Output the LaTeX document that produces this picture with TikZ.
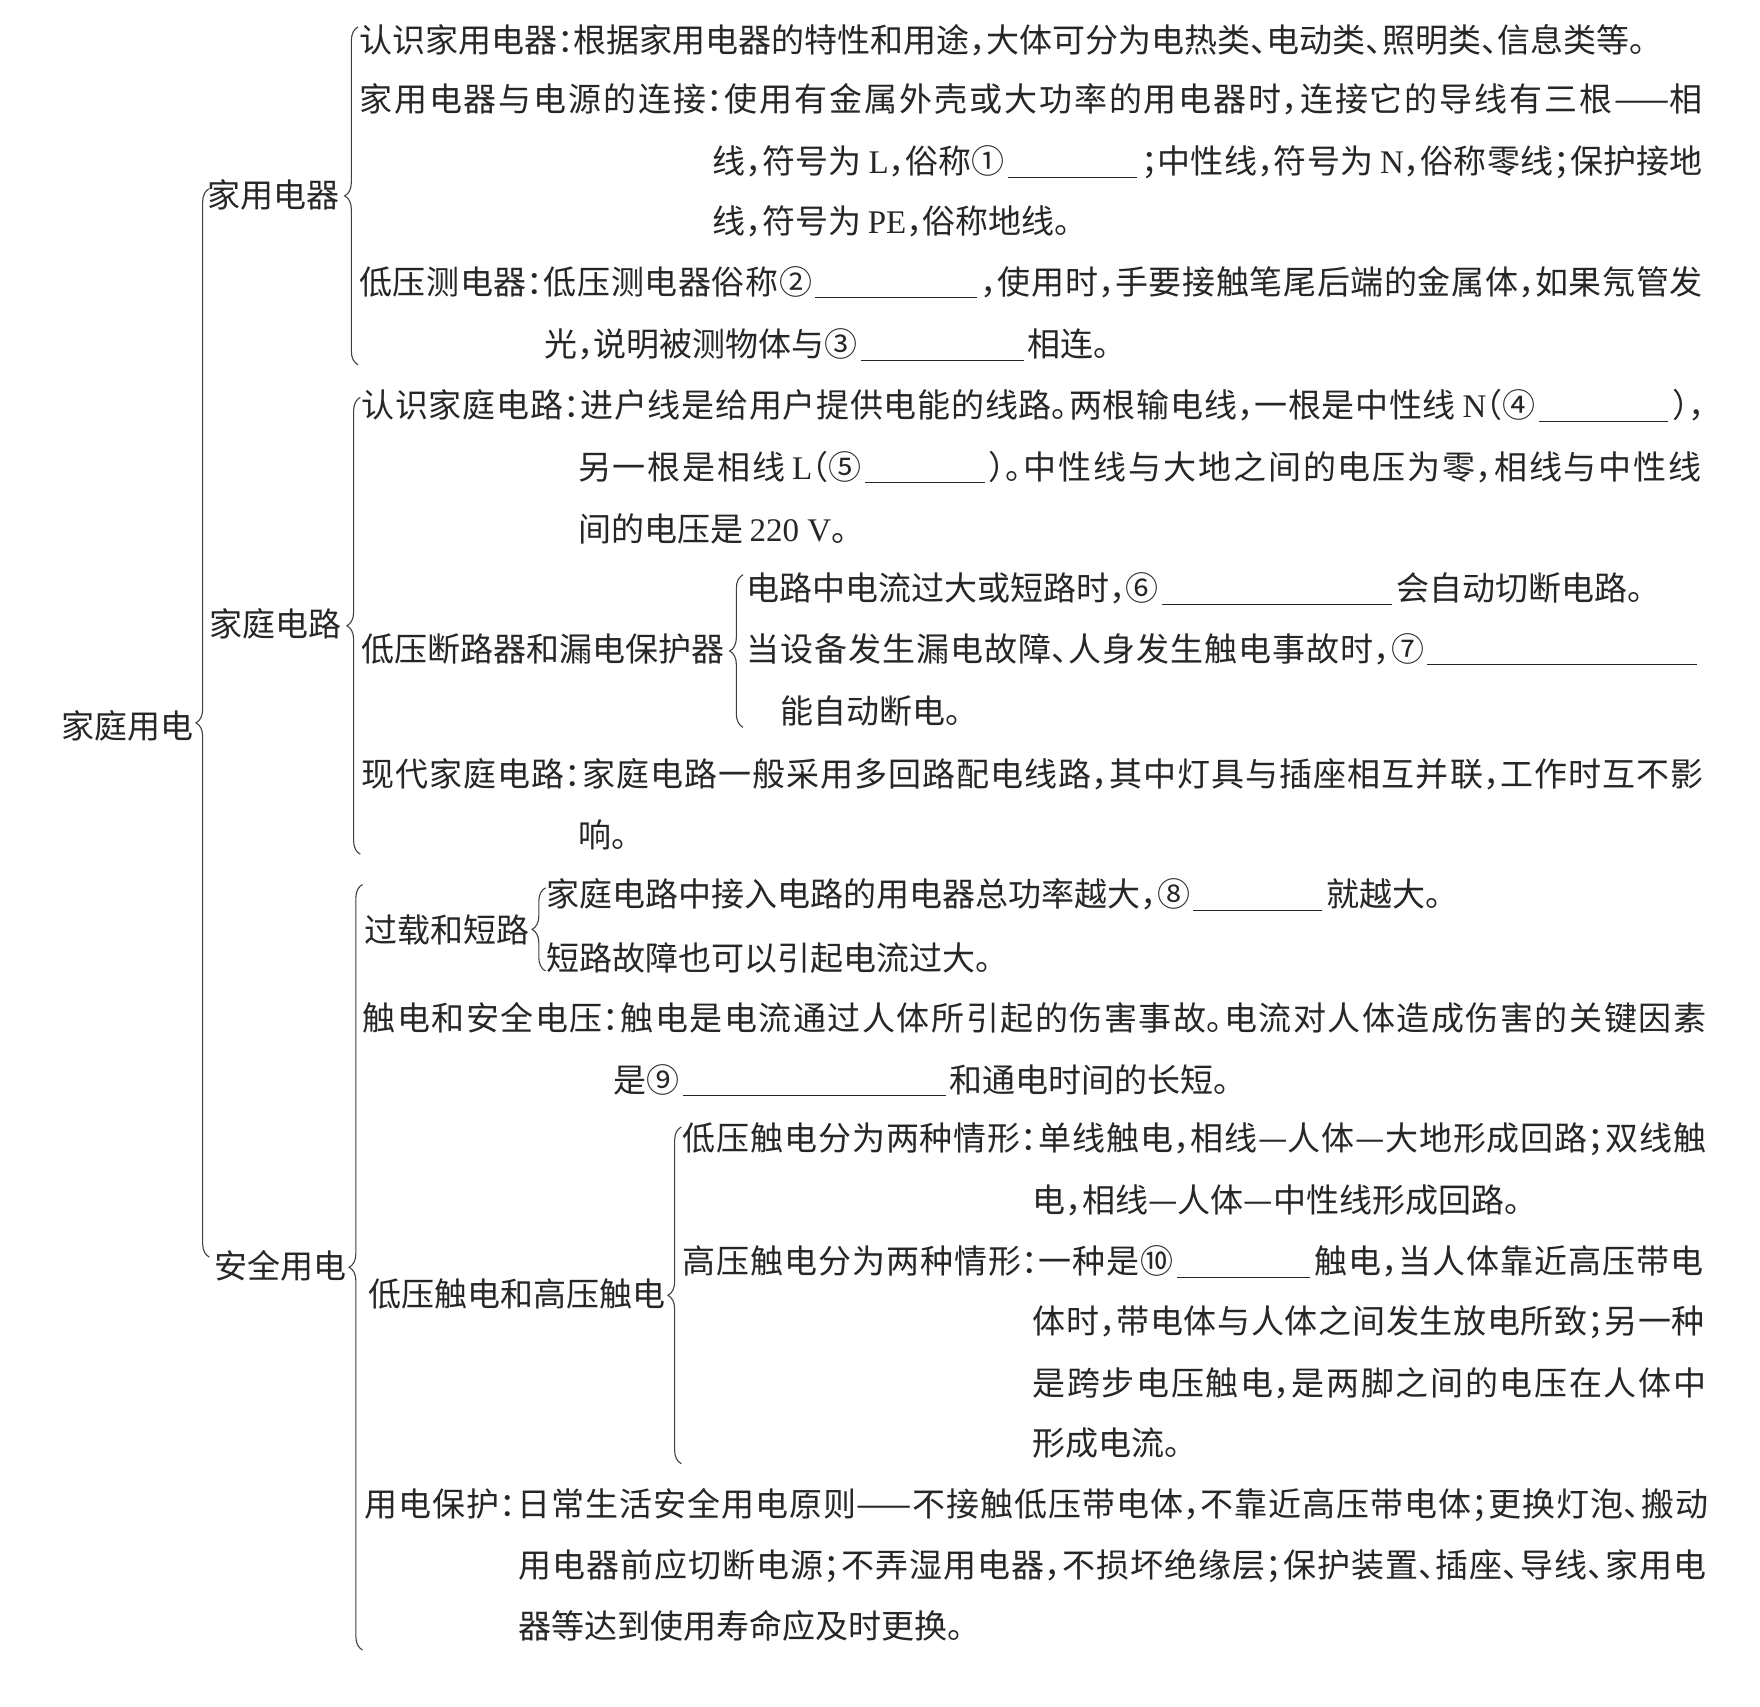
\documentclass[tikz,border=0pt]{standalone}
\usepackage{fontspec}
\setmainfont{Noto Sans CJK SC}[RawFeature={+halt}]
\newfontfamily\latf{Liberation Serif}
\usetikzlibrary{decorations.pathreplacing}
\XeTeXlinebreaklocale "zh"
\XeTeXlinebreakskip=0pt plus 2pt minus 0.3pt
\newdimen\myu \myu=0.5612pt
\newcommand\jb[2]{\parbox[b]{#1\myu}{\parindent=0pt\parfillskip=0pt\relax #2}}
\newcommand\blank[1]{\kern1.5pt\rule[-2pt]{#1\myu}{0.5pt}\kern2pt}
\newcommand\ltn[1]{\kern0.2em{\latf #1}}
\begin{document}
\begin{tikzpicture}[x=0.5612pt,y=-0.5612pt,
  txt/.style={anchor=base west, inner sep=0pt, outer sep=0pt, font=\fontsize{16.5}{20}\selectfont, text=black!85},
  brc/.style={decorate, decoration={brace, amplitude=6.7pt}, line width=0.55pt, draw=black!75}]
\useasboundingbox (0,0) rectangle (1568,1520);

% level 0 / 1 labels
\node[txt] (root) at (55,658) {家庭用电};
\node[txt] (jydq) at (185,185) {家用电器};
\node[txt] (jtdl) at (187,567) {家庭电路};
\node[txt] (aqyd) at (191,1139) {安全用电};

% group A
\node[txt] (a1) at (320,46.5) {认识家用电器：根据家用电器的特性和用途，大体可分为电热类、电动类、照明类、信息类等。};
\node[txt] (a2) at (320,99) {\jb{1197}{家用电器与电源的连接：使用有金属外壳或大功率的用电器时，连接它的导线有三根——相}};
\node[txt] (a3) at (635,155) {\jb{882}{线，符号为\ltn{L}，俗称①\blank{115}；中性线，符号为\ltn{N}，俗称零线；保护接地}};
\node[txt] (a4) at (635,208) {线，符号为\ltn{PE}，俗称地线。};
\node[txt] (a5) at (320,262) {\jb{1197}{低压测电器：低压测电器俗称②\blank{144}，使用时，手要接触笔尾后端的金属体，如果氖管发}};
\node[txt] (a6) at (485,318) {光，说明被测物体与③\blank{145}相连。};

% group B
\node[txt] (b1) at (322,372) {\jb{1197}{认识家庭电路：进户线是给用户提供电能的线路。两根输电线，一根是中性线\ltn{N}（④\blank{115}），}};
\node[txt] (b2) at (515,427) {\jb{1001}{另一根是相线\ltn{L}（⑤\blank{107}）。中性线与大地之间的电压为零，相线与中性线}};
\node[txt] (b3) at (515,482) {间的电压是\ltn{220 V}。};
\node[txt] (b4) at (665,535) {电路中电流过大或短路时，⑥\blank{205}会自动切断电路。};
\node[txt] (blab) at (322,589) {低压断路器和漏电保护器};
\node[txt] (b5) at (665,589) {\jb{850}{当设备发生漏电故障、人身发生触电事故时，⑦\blank{240}}};
\node[txt] (b6) at (695,645) {能自动断电。};
\node[txt] (b7) at (322,701) {\jb{1196}{现代家庭电路：家庭电路一般采用多回路配电线路，其中灯具与插座相互并联，工作时互不影}};
\node[txt] (b8) at (515,755) {响。};

% group C
\node[txt] (c1) at (487,808) {家庭电路中接入电路的用电器总功率越大，⑧\blank{115}就越大。};
\node[txt] (clab1) at (325,840) {过载和短路};
\node[txt] (c2) at (487,865) {短路故障也可以引起电流过大。};
\node[txt] (c3) at (323,918) {\jb{1197}{触电和安全电压：触电是电流通过人体所引起的伤害事故。电流对人体造成伤害的关键因素}};
\node[txt] (c4) at (547,973) {是⑨\blank{234}和通电时间的长短。};
\node[txt] (clab2) at (328,1164) {低压触电和高压触电};
\node[txt] (c5) at (608,1025) {\jb{912}{低压触电分为两种情形：单线触电，相线—人体—大地形成回路；双线触}};
\node[txt] (c6) at (920,1080) {电，相线—人体—中性线形成回路。};
\node[txt] (c7) at (608,1135) {\jb{910}{高压触电分为两种情形：一种是⑩\blank{119}触电，当人体靠近高压带电}};
\node[txt] (c8) at (920,1188) {\jb{599}{体时，带电体与人体之间发生放电所致；另一种}};
\node[txt] (c9) at (920,1243) {\jb{600}{是跨步电压触电，是两脚之间的电压在人体中}};
\node[txt] (c10) at (920,1297) {形成电流。};
\node[txt] (c11) at (325,1351) {\jb{1197}{用电保护：日常生活安全用电原则——不接触低压带电体，不靠近高压带电体；更换灯泡、搬动}};
\node[txt] (c12) at (462,1405) {\jb{1058}{用电器前应切断电源；不弄湿用电器，不损坏绝缘层；保护装置、插座、导线、家用电}};
\node[txt] (c13) at (462,1460) {器等达到使用寿命应及时更换。};

% braces
\coordinate (rT) at (186.5,168);  \coordinate (rB) at (186.5,1120);
\coordinate (aT) at (319,24);     \coordinate (aB) at (319,325);
\coordinate (bT) at (321,354);    \coordinate (bB) at (321,761);
\coordinate (cT) at (323,788);    \coordinate (cB) at (323,1470);
\coordinate (bsT) at (662,512);   \coordinate (bsB) at (662,648);
\coordinate (csT) at (486,791);   \coordinate (csB) at (486,865);
\coordinate (ctT) at (607,1004);  \coordinate (ctB) at (607,1304);
\draw[brc] (rB) -- (rT);
\draw[brc] (aB) -- (aT);
\draw[brc] (bB) -- (bT);
\draw[brc] (cB) -- (cT);
\draw[brc] (bsB) -- (bsT);
\draw[brc] (csB) -- (csT);
\draw[brc] (ctB) -- (ctT);
\end{tikzpicture}
\end{document}
